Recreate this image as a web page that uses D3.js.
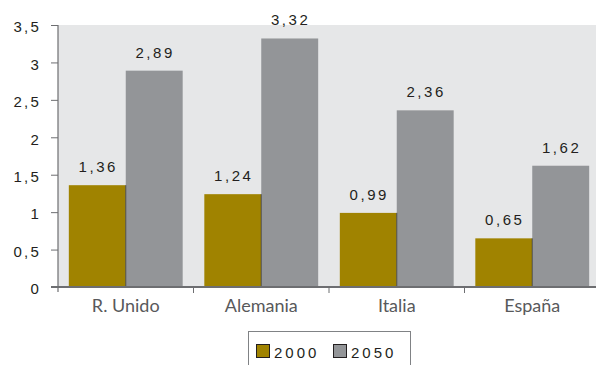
<!DOCTYPE html>
<html>
<head>
<meta charset="utf-8">
<script src="https://cdn.jsdelivr.net/npm/d3@7"></script>
<style>
  html, body { margin: 0; padding: 0; background: #ffffff; }
  svg { display: block; }
</style>
</head>
<body>
<svg id="chart" width="596" height="365"></svg>
<script>
// Ratio values per country, 2000 vs 2050
const countries = ["R. Unido", "Alemania", "Italia", "España"];
const years = ["2000", "2050"];
const values2000 = [1.36, 1.24, 0.99, 0.65];
const values2050 = [2.89, 3.32, 2.36, 1.62];
const yTicks = [0, 0.5, 1, 1.5, 2, 2.5, 3, 3.5];

const colors = { "2000": "#a08300", "2050": "#939598" };
const series = { "2000": values2000, "2050": values2050 };

const svg = d3.select("#chart");
const margin = { left: 58, top: 25, right: -4, bottom: 78 };
const W = 596, H = 365;
const plotW = W - margin.left - margin.right;
const plotH = H - margin.top - margin.bottom;

const fmt = v => String(v).replace(".", ",");

const x0 = d3.scaleBand().domain(countries).range([margin.left, margin.left + plotW])
  .paddingInner(0).paddingOuter(0);
const x1 = d3.scaleBand().domain(years).range([0, x0.bandwidth()]).paddingInner(0).paddingOuter(0.19);
const y = d3.scaleLinear().domain([0, 3.5]).range([margin.top + plotH, margin.top]);

// Plot background
svg.append("rect")
  .attr("x", margin.left).attr("y", margin.top)
  .attr("width", plotW).attr("height", plotH)
  .attr("fill", "#e6e7e8");

// Bars
const groups = svg.append("g").selectAll("g")
  .data(countries).join("g")
  .attr("transform", d => `translate(${x0(d)},0)`);

groups.selectAll("rect")
  .data((c, i) => years.map(yr => ({ yr, v: series[yr][i] })))
  .join("rect")
  .attr("x", d => x1(d.yr))
  .attr("y", d => y(d.v))
  .attr("width", x1.bandwidth())
  .attr("height", d => y(0) - y(d.v))
  .attr("fill", d => colors[d.yr]);

// Thin dark edge between the paired bars
groups.append("line")
  .attr("x1", x1("2050")).attr("x2", x1("2050"))
  .attr("y1", (c, i) => y(Math.min(values2000[i], values2050[i])))
  .attr("y2", y(0))
  .attr("stroke", "#3a3a3a").attr("stroke-width", 0.8);

// Value labels
groups.selectAll("text.val")
  .data((c, i) => years.map(yr => ({ yr, v: series[yr][i] })))
  .join("text")
  .attr("class", "val")
  .attr("x", d => x1(d.yr) + x1.bandwidth() / 2 + 1)
  .attr("y", d => y(d.v) - 13)
  .attr("text-anchor", "middle")
  .attr("font-family", "Liberation Sans, Arial, sans-serif")
  .attr("font-size", 15)
  .attr("letter-spacing", 2.6)
  .attr("fill", "#231f20")
  .text(d => fmt(d.v));

// Y axis
const yAxis = svg.append("g")
  .attr("transform", `translate(${margin.left},0)`)
  .call(d3.axisLeft(y).tickValues(yTicks).tickSize(7).tickPadding(10).tickFormat(fmt));
yAxis.select(".domain").attr("stroke", "#6d6e71").attr("stroke-width", 1.2)
  .attr("d", `M0,${margin.top}V${y(0) + 5}`);
yAxis.selectAll(".tick line").attr("stroke", "#6d6e71");
yAxis.selectAll(".tick text")
  .attr("font-family", "Liberation Sans, Arial, sans-serif")
  .attr("font-size", 15)
  .attr("letter-spacing", 2.2)
  .attr("dy", "0.45em")
  .attr("fill", "#231f20");

// X axis baseline
svg.append("line")
  .attr("x1", margin.left - 7).attr("x2", W)
  .attr("y1", y(0)).attr("y2", y(0))
  .attr("stroke", "#6d6e71").attr("stroke-width", 1.8);

// Category separators
svg.append("g").selectAll("line")
  .data(countries.slice(1)).join("line")
  .attr("x1", d => x0(d)).attr("x2", d => x0(d))
  .attr("y1", y(0)).attr("y2", y(0) + 6)
  .attr("stroke", "#6d6e71");

// Category labels
svg.append("g").selectAll("text")
  .data(countries).join("text")
  .attr("x", d => x0(d) + x0.bandwidth() / 2)
  .attr("y", y(0) + 25)
  .attr("text-anchor", "middle")
  .attr("font-family", "Lato, sans-serif")
  .attr("font-size", 18)
  .attr("fill", "#58595b")
  .text(d => d);

// Legend
const lg = svg.append("g");
lg.append("rect")
  .attr("x", 248.5).attr("y", 331.5).attr("width", 162).attr("height", 40)
  .attr("fill", "#ffffff").attr("stroke", "#808285");
years.forEach((yr, i) => {
  const lx = 256 + i * 77;
  lg.append("rect")
    .attr("x", lx + 0.5).attr("y", 344.5).attr("width", 13).attr("height", 13)
    .attr("fill", colors[yr]).attr("stroke", "#231f20").attr("stroke-width", 1);
  lg.append("text")
    .attr("x", lx + 18).attr("y", 357.5)
    .attr("font-family", "Liberation Sans, Arial, sans-serif")
    .attr("font-size", 15)
    .attr("letter-spacing", 3)
    .attr("fill", "#231f20")
    .text(yr);
});
</script>
</body>
</html>
